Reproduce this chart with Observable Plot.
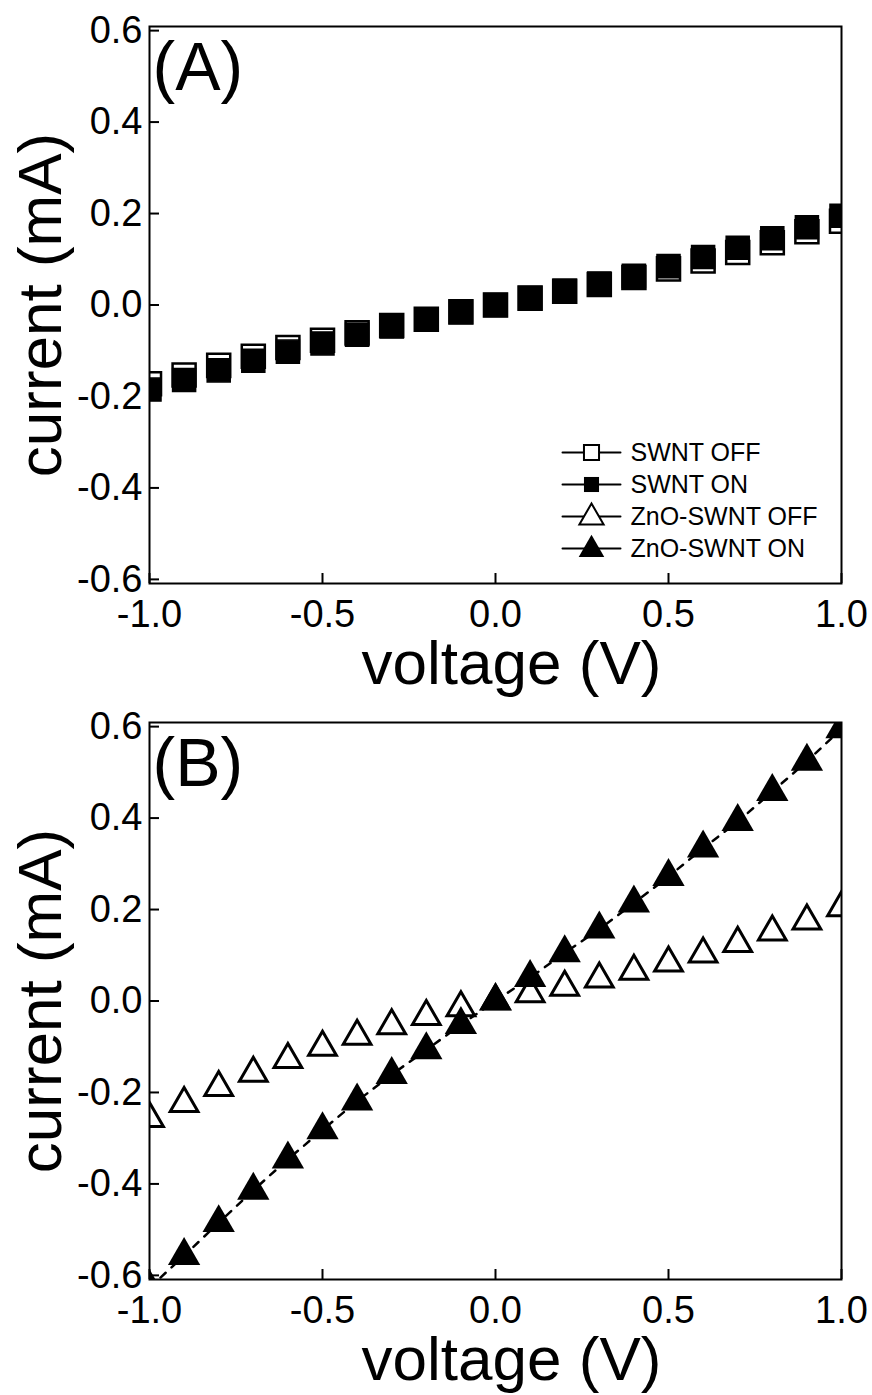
<!DOCTYPE html>
<html>
<head>
<meta charset="utf-8">
<script src="https://cdn.jsdelivr.net/npm/d3@7"></script>
<script src="https://cdn.jsdelivr.net/npm/@observablehq/plot@0.6"></script>
<style>
  html, body { margin: 0; padding: 0; background: #fff; }
  #chart svg { display: block; }
</style>
</head>
<body>
<div id="chart"></div>
<script>
// ---- data ----
const voltage = [-1.0, -0.9, -0.8, -0.7, -0.6, -0.5, -0.4, -0.3, -0.2, -0.1, 0.0, 0.1, 0.2, 0.3, 0.4, 0.5, 0.6, 0.7, 0.8, 0.9, 1.0];
const swntOff = [-0.172, -0.153, -0.132, -0.112, -0.093, -0.077, -0.061, -0.045, -0.031, -0.015, 0.000, 0.015, 0.030, 0.045, 0.060, 0.079, 0.096, 0.115, 0.136, 0.160, 0.183];
const swntOn  = [-0.185, -0.164, -0.143, -0.122, -0.102, -0.084, -0.065, -0.047, -0.031, -0.015, 0.000, 0.015, 0.031, 0.047, 0.064, 0.085, 0.105, 0.125, 0.146, 0.170, 0.195];
const znoOff  = [-0.257, -0.224, -0.189, -0.158, -0.128, -0.101, -0.077, -0.054, -0.034, -0.015, 0.000, 0.016, 0.030, 0.048, 0.065, 0.083, 0.103, 0.126, 0.151, 0.175, 0.204];
const znoOn   = [-0.627, -0.557, -0.485, -0.414, -0.346, -0.282, -0.219, -0.161, -0.107, -0.052, 0.000, 0.051, 0.105, 0.157, 0.214, 0.272, 0.334, 0.392, 0.458, 0.524, 0.595];
const xTicks = [-1.0, -0.5, 0.0, 0.5, 1.0];
const yTicks = [-0.6, -0.4, -0.2, 0.0, 0.2, 0.4, 0.6];
const legendLabels = ["SWNT OFF", "SWNT ON", "ZnO-SWNT OFF", "ZnO-SWNT ON"];
const legendSymbols = ["square", "square", "triangle", "triangle"];
const legendFills = ["white", "black", "white", "black"];
const xLabel = "voltage (V)";
const yLabel = "current (mA)";
const panelLabels = ["(A)", "(B)"];

const rows = (ys) => voltage.map((v, i) => ({v, c: ys[i]}));
const fmt = d => d.toFixed(1);
const FONT = "'Liberation Sans', Arial, Helvetica, sans-serif";

function commonMarks(label) {
  return [
    Plot.axisX(xTicks, {tickSize: -10, tickPadding: 27, strokeWidth: 2, fontSize: 38, tickFormat: fmt, label: null}),
    Plot.axisY(yTicks, {tickSize: -10, tickPadding: 17, strokeWidth: 2, fontSize: 38, tickFormat: fmt, label: null}),
    Plot.text([xLabel], {frameAnchor: "bottom", dx: 16, dy: 100, textAnchor: "middle", lineAnchor: "bottom", fontSize: 62, text: d => d}),
    Plot.text([yLabel], {frameAnchor: "left", dx: -108, rotate: -90, textAnchor: "middle", lineAnchor: "middle", fontSize: 62, text: d => d}),
    Plot.text([label], {frameAnchor: "top-left", dx: 3, dy: 63, textAnchor: "start", lineAnchor: "bottom", fontSize: 68, text: d => d})
  ];
}

const lineShape = {draw(ctx, l) { ctx.moveTo(0, 0); ctx.lineTo(0, -l); }};

function legendMarks() {
  const out = [];
  legendLabels.forEach((lab, i) => {
    const dy = -131 + i * 32;
    const isTri = legendSymbols[i] === "triangle";
    const open = legendFills[i] === "white";
    out.push(Plot.vector([lab], {frameAnchor: "bottom-right", dx: -250, dy, length: 58, rotate: 90, anchor: "middle", shape: lineShape, stroke: "black", strokeWidth: 2}));
    out.push(Plot.dot([lab], {frameAnchor: "bottom-right", dx: -250, dy: isTri ? dy + 1 : dy, symbol: legendSymbols[i],
      r: isTri ? (open ? 9 : 9.5) : 8.5, fill: legendFills[i], stroke: open ? "black" : "none", strokeWidth: 2}));
    out.push(Plot.text([lab], {frameAnchor: "bottom-right", dx: -211, dy, textAnchor: "start", lineAnchor: "middle", fontSize: 25, text: d => d}));
  });
  return out;
}

function panel(label, height, marginTop, marginBottom, dataMarks) {
  return Plot.plot({
    width: 872, height, marginLeft: 149, marginRight: 31, marginTop, marginBottom,
    style: {fontFamily: FONT, background: "white", color: "black", overflow: "visible"},
    x: {domain: [-1, 1]},
    y: {domain: [-0.609, 0.609]},
    marks: [...dataMarks, ...commonMarks(label), Plot.frame({stroke: "black", strokeWidth: 2})]
  });
}

const panelA = panel(panelLabels[0], 697, 26, 114, [
  Plot.dot(rows(swntOff), {x: "v", y: "c", symbol: "square", r: 13, fill: "white", stroke: "black", strokeWidth: 2.5, clip: true}),
  Plot.dot(rows(swntOn), {x: "v", y: "c", symbol: "square", r: 13, fill: "black", stroke: "black", strokeWidth: 1.5, clip: true}),
  ...legendMarks()
]);

const panelB = panel(panelLabels[1], 698, 25, 116, [
  Plot.line(rows(znoOn), {x: "v", y: "c", stroke: "black", strokeWidth: 2.5, strokeDasharray: "7,8", clip: true}),
  Plot.dot(rows(znoOff), {x: "v", y: "c", symbol: "triangle", r: 10.3, fill: "white", stroke: "black", strokeWidth: 3, clip: true}),
  Plot.dot(rows(znoOn), {x: "v", y: "c", symbol: "triangle", r: 12, fill: "black", stroke: "none", clip: true})
]);

const root = document.getElementById("chart");
root.appendChild(panelA);
root.appendChild(panelB);
</script>
</body>
</html>
